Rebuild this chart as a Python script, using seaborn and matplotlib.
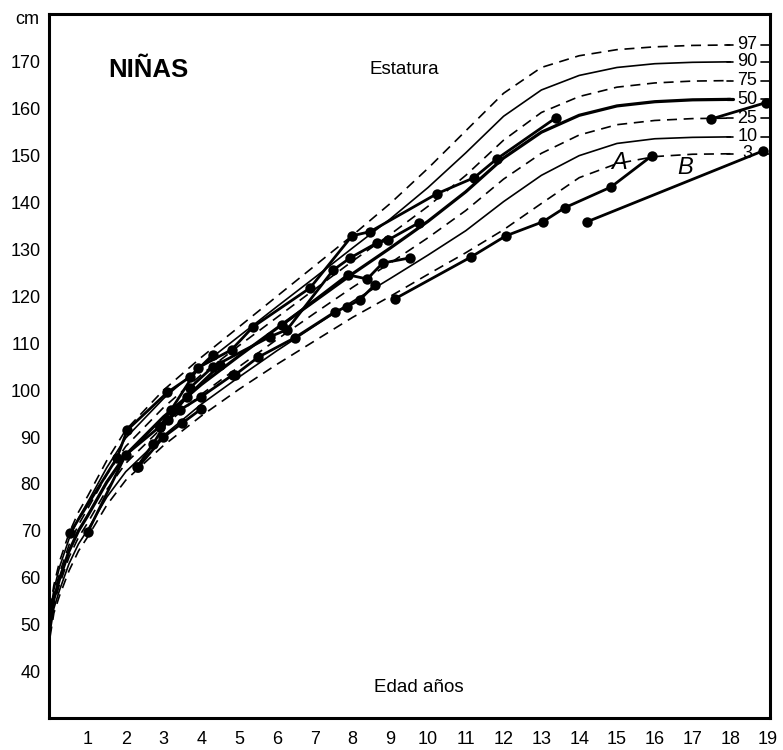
import numpy as np
import pandas as pd
import matplotlib
matplotlib.use("Agg")
import matplotlib.pyplot as plt
import seaborn as sns

# ---------------- data ----------------
ages_p = [0, 0.1, 0.25, 0.5, 0.75, 1, 1.5, 2, 3, 4, 5, 6, 7, 8, 9, 10, 11, 12, 13, 14, 15, 16, 17, 18]
p97 = [53.5, 58.5, 63.5, 69.5, 74, 77.5, 85, 91.5, 100, 107, 113.5, 120, 126.5, 133, 139.8, 147.3, 155.3, 163.3, 168.8, 171.3, 172.6, 173.2, 173.5, 173.6]
p90 = [52.5, 57.5, 62.3, 68.3, 72.7, 76.2, 83.5, 89.8, 98.2, 105.2, 111.5, 117.8, 124, 130.3, 136.5, 143.2, 150.6, 158.4, 164.0, 167.1, 168.8, 169.6, 169.9, 170]
p75 = [51.5, 56.5, 61.0, 67.0, 71.3, 74.8, 82, 88, 96.3, 103.3, 109.5, 115.5, 121.5, 127.5, 133.2, 139.2, 145.8, 153.3, 159.2, 162.6, 164.6, 165.5, 165.9, 166]
p50 = [50.5, 55.5, 59.8, 65.7, 70, 73.3, 80.4, 86.2, 94.3, 101.2, 107.3, 113.2, 119, 124.8, 130.3, 136.0, 142.3, 149.5, 155.0, 158.6, 160.6, 161.5, 161.9, 162]
p25 = [49.5, 54.5, 58.6, 64.4, 68.6, 71.8, 78.8, 84.4, 92.3, 99.1, 105.0, 110.8, 116.4, 121.9, 127.1, 132.5, 138.3, 145.0, 150.5, 154.4, 156.6, 157.5, 157.9, 158]
p10 = [48.5, 53.5, 57.4, 63.0, 67.2, 70.3, 77.2, 82.6, 90.3, 97.0, 102.8, 108.4, 113.7, 118.9, 123.8, 128.8, 134.0, 140.2, 145.8, 150.0, 152.6, 153.6, 153.9, 154]
p3 = [47.5, 52.5, 56.2, 61.5, 65.7, 68.8, 75.5, 80.8, 88.2, 94.5, 100.2, 105.5, 110.5, 115.5, 120.0, 124.7, 129.3, 134.2, 139.8, 145.3, 148.3, 149.8, 150.3, 150.4]
percentile_labels = ["97", "90", "75", "50", "25", "10", "3"]

# individual girls (age in years, height in cm)
g1_age = [0.53, 1.77, 2.04, 3.1, 3.7, 4.3]
g1_h = [69.6, 85.6, 91.5, 99.5, 102.8, 107.5]
g2_age = [1.0, 2.0, 2.9, 3.44, 4.0, 4.84]
g2_h = [69.8, 86.2, 92.2, 95.8, 98.6, 103.3]
g3_age = [2.3, 2.72, 3.12, 3.62, 4.5]
g3_h = [83.6, 88.5, 93.7, 98.6, 105.4]
g4_age = [2.9, 3.2, 3.92, 4.8, 5.37, 6.88, 7.99, 8.47, 10.24, 11.22, 11.82, 13.39]
g4_h = [92.2, 95.8, 104.8, 108.6, 113.5, 121.8, 132.9, 133.8, 141.9, 145.3, 149.3, 158.1]
g5_age = [3.7, 4.31, 5.82, 6.27, 7.49, 7.94, 8.65, 8.94, 9.76]
g5_h = [100.5, 105.0, 111.4, 112.9, 125.6, 128.2, 131.4, 132.0, 135.7]
g6_age = [4.9, 5.5, 6.48, 7.54, 7.86, 8.2, 8.6]
g6_h = [103.3, 107.0, 111.2, 116.7, 117.8, 119.3, 122.5]
g7_age = [6.14, 7.88, 8.39, 8.8, 9.52]
g7_h = [113.9, 124.6, 123.7, 127.1, 128.2]
g8_age = [9.13, 11.14, 12.06, 13.04, 13.62, 14.84, 15.93]
g8_h = [119.5, 128.4, 132.9, 135.9, 138.9, 143.3, 150.0]
g9_age = [14.21, 18.86]
g9_h = [135.9, 151.0]
g10_age = [17.49, 18.94]
g10_h = [157.8, 161.3]
g11_age = [2.33, 3.0, 3.5, 4.0]
g11_h = [83.6, 90.0, 93.0, 96.0]

x_ticks = list(range(1, 20))
y_ticks = list(range(40, 171, 10))

# ---------------- figure ----------------
sns.set_style("white")
plt.rcParams['font.family'] = ['Liberation Sans', 'DejaVu Sans']
plt.rcParams['text.color'] = 'black'
plt.rcParams['xtick.color'] = 'black'
plt.rcParams['ytick.color'] = 'black'

fig = plt.figure(figsize=(7.83, 7.5), dpi=100)
ax = fig.add_axes([49 / 783, 1 - 718 / 750, (770 - 49) / 783, (718 - 14) / 750])

curves = [p97, p90, p75, p50, p25, p10, p3]
styles = ["dash", "solid", "dash", "thick", "dash", "solid", "dash"]
for vals, st, lab in zip(curves, styles, percentile_labels):
    df = pd.DataFrame({"edad": ages_p, "talla": vals})
    lw = 2.3 if st == "thick" else 1.2
    sns.lineplot(data=df, x="edad", y="talla", ax=ax, color="black", linewidth=lw, sort=False)
    ln = ax.lines[-1]
    if st == "dash":
        ln.set_dashes([6, 4])
    # label at right end
    ax.text(18.45, vals[-1], lab, ha="center", va="center", fontsize=13, color="black")
    ax.plot([18.82, 19.1], [vals[-1], vals[-1]], color="black", linewidth=1.2)
    ax.plot([17.9, 18.06], [vals[-1], vals[-1]], color="black", linewidth=lw)

girls = [(g1_age, g1_h), (g2_age, g2_h), (g3_age, g3_h), (g4_age, g4_h), (g5_age, g5_h),
         (g6_age, g6_h), (g7_age, g7_h), (g8_age, g8_h), (g9_age, g9_h), (g10_age, g10_h),
         (g11_age, g11_h)]
for a, h in girls:
    df = pd.DataFrame({"edad": a, "talla": h})
    sns.lineplot(data=df, x="edad", y="talla", ax=ax, color="black", linewidth=2.0,
                 marker="o", markersize=7.5, markeredgewidth=0, sort=False)

ax.set_xlim(-0.03, 19.05)
ax.set_ylim(30.1, 180.2)
ax.set_xticks(x_ticks)
ax.set_xticklabels([str(t) for t in x_ticks])
ax.set_yticks(y_ticks)
ax.set_yticklabels([str(t) for t in y_ticks])
ax.tick_params(axis="both", length=0, labelsize=13, colors="black", labelcolor="black")
ax.tick_params(axis="x", pad=9)
ax.tick_params(axis="y", pad=6)
ax.set_xlabel("")
ax.set_ylabel("")
for s in ax.spines.values():
    s.set_visible(True)
    s.set_color("black")
    s.set_linewidth(2.2)

ax.text(2.6, 168.3, "NIÑAS", fontsize=18.5, fontweight="bold", ha="center", va="center", color="black")
ax.text(9.37, 168.3, "Estatura", fontsize=13.5, ha="center", va="center", color="black")
ax.text(9.76, 36.7, "Edad años", fontsize=13.5, ha="center", va="center", color="black")
ax.text(-0.3, 179.0, "cm", fontsize=13, ha="right", va="center", clip_on=False, color="black")
ax.text(15.05, 148.5, "A", fontsize=17, fontstyle="italic", ha="center", va="center", color="black")
ax.text(16.8, 147.4, "B", fontsize=17, fontstyle="italic", ha="center", va="center", color="black")

fig.savefig("out.png", dpi=100)
